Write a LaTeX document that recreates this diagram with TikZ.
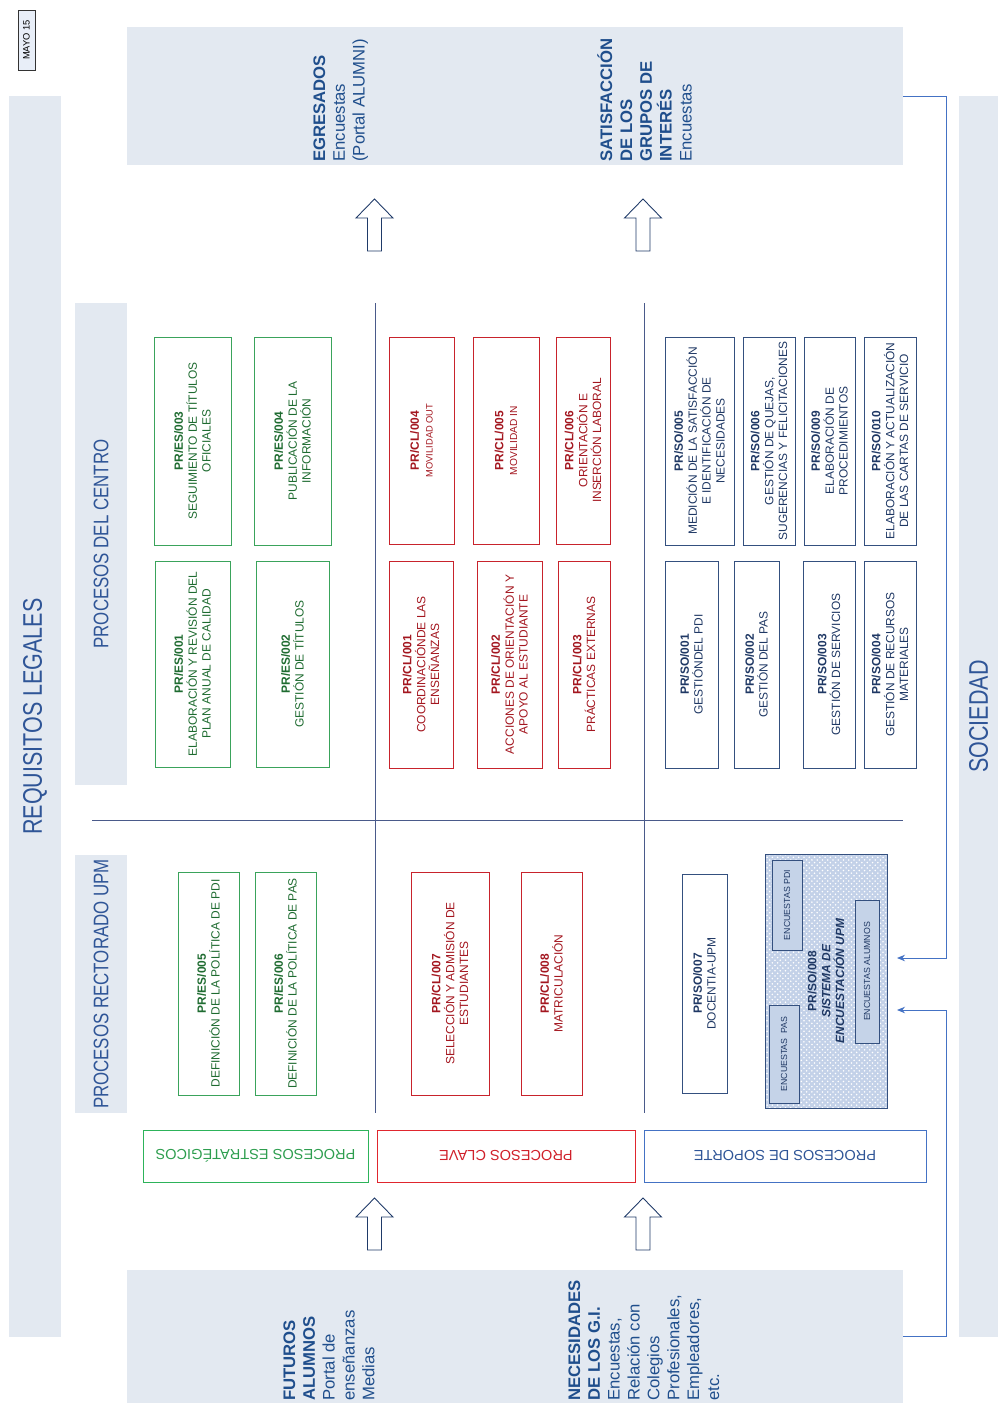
\documentclass[tikz,border=0pt]{standalone}
\usepackage{fontspec}
\setmainfont{Liberation Sans}
\newfontfamily\narrowsans[FakeStretch=0.8]{Liberation Sans}
\usepackage{tikz}
\usetikzlibrary{arrows.meta,positioning,patterns,calc}

\definecolor{bandfill}{HTML}{E3E9F1}
\definecolor{titleblue}{HTML}{2F5597}
\definecolor{labelblue}{HTML}{1F4E8C}
\definecolor{esline}{HTML}{3AA35B}
\definecolor{estext}{HTML}{1E6B30}
\definecolor{clline}{HTML}{C8232C}
\definecolor{cltext}{HTML}{A3161F}
\definecolor{soline}{HTML}{34507F}
\definecolor{sotext}{HTML}{1F3864}
\definecolor{esbarline}{HTML}{2DB35A}
\definecolor{esbartext}{HTML}{2E9E4F}
\definecolor{clbarline}{HTML}{E0262E}
\definecolor{clbartext}{HTML}{D0202A}
\definecolor{sobarline}{HTML}{4472C4}
\definecolor{connblue}{HTML}{4472C4}
\definecolor{divline}{HTML}{4A5A8A}
\definecolor{arrowline}{HTML}{1F3A68}
\definecolor{patfill}{HTML}{C3D1E8}
\definecolor{encfill}{HTML}{C5D3E8}
\definecolor{mayofill}{HTML}{E8EEF8}

\tikzset{
  band/.style={fill=bandfill, draw=none, inner sep=0pt},
  bandtitle/.style={band, rotate=90, text=titleblue, font=\narrowsans\fontsize{15.3}{18}\selectfont},
  subtitle/.style={bandtitle, font=\narrowsans\fontsize{12}{14}\selectfont},
  bandtext/.style={rotate=90, align=left, inner sep=0pt, text=labelblue, font=\fontsize{9.5}{11.3}\selectfont},
  procbox/.style={rotate=90, align=center, inner sep=1pt, line width=0.5pt, font=\fontsize{6.8}{7.9}\selectfont},
  esbox/.style={procbox, draw=esline, text=estext},
  clbox/.style={procbox, draw=clline, text=cltext},
  sobox/.style={procbox, draw=soline, text=sotext},
  encbox/.style={sobox, fill=encfill, font=\fontsize{5}{6}\selectfont},
  groupbar/.style={rotate=180, line width=0.5pt, font=\fontsize{8.3}{10}\selectfont, minimum height=10.4mm},
  hollowarrow/.style={draw=arrowline, fill=white, line width=0.5pt, line join=miter},
  divider/.style={draw=divline, line width=0.5pt},
  conn/.style={draw=connblue, line width=0.5pt, -{Stealth[length=1.6mm,width=1.3mm]}}
}

\begin{document}
\begin{tikzpicture}[x=0.2mm,y=-0.2mm]
\useasboundingbox (0,0) rectangle (999,1403);

% date tag
\node[rotate=90, draw=black!80, fill=mayofill, minimum width=12mm, minimum height=3.4mm, inner sep=0pt, font=\fontsize{5.3}{6}\selectfont] (mayo) at (26.5,40) {MAYO 15};

% side bands
\node[bandtitle, minimum width=248.2mm, minimum height=10.4mm] (reqband) at (35,716.5) {REQUISITOS LEGALES};
\node[bandtitle, minimum width=248.2mm, minimum height=7.8mm] (socband) at (978.5,716.5) {\raisebox{-0.9mm}{SOCIEDAD}};
\node[subtitle, minimum width=96.4mm, minimum height=10.4mm] (centroband) at (101,544) {PROCESOS DEL CENTRO};
\node[subtitle, minimum width=51.6mm, minimum height=10.4mm] (rectband) at (101,984) {PROCESOS RECTORADO UPM};

% top and bottom bands
\node[band, minimum width=155.2mm, minimum height=27.6mm] (topband) at (515,96) {};
\node[band, minimum width=155.2mm, minimum height=26.6mm] (bottomband) at (515,1336.5) {};
\node[bandtext, anchor=north west] (egresados) at (313,162) {\textbf{EGRESADOS}\\Encuestas\\(Portal ALUMNI)};
\node[bandtext, anchor=north west] (satisfaccion) at (597,162) {\textbf{SATISFACCIÓN}\\\textbf{DE LOS}\\\textbf{GRUPOS DE}\\\textbf{INTERÉS}\\Encuestas};
\node[bandtext, anchor=north west] (futuros) at (283,1401) {\textbf{FUTUROS}\\\textbf{ALUMNOS}\\Portal de\\enseñanzas\\Medias};
\node[bandtext, anchor=north west] (necesidades) at (568,1401) {\textbf{NECESIDADES}\\\textbf{DE LOS G.I.}\\Encuestas,\\Relación con\\Colegios\\Profesionales,\\Empleadores,\\etc.};

% hollow arrows
\foreach \ax/\ay in {374.5/199, 643/199, 374.5/1198, 643/1198}
  \draw[hollowarrow] (\ax,\ay) -- ++(18.5,19) -- ++(-11.5,0) -- ++(0,33) -- ++(-14,0) -- ++(0,-33) -- ++(-11.5,0) -- cycle;

% dividers
\draw[divider] (375,303) -- (375,1113);
\draw[divider] (644,303) -- (644,1113);
\draw[divider] (92,820) -- (903,820);

% procesos del centro
\node[esbox, minimum width=41.6mm, minimum height=15.4mm] (es003) at (192.5,441) {\textbf{PR/ES/003}\\SEGUIMIENTO DE TÍTULOS\\OFICIALES};
\node[esbox, minimum width=41.6mm, minimum height=15.4mm] (es004) at (292.5,441) {\textbf{PR/ES/004}\\PUBLICACIÓN DE LA\\INFORMACIÓN};
\node[esbox, minimum width=41.2mm, minimum height=15mm] (es001) at (192.5,664) {\textbf{PR/ES/001}\\ELABORACIÓN Y REVISIÓN DEL\\PLAN ANUAL DE CALIDAD};
\node[esbox, minimum width=41.2mm, minimum height=14.6mm] (es002) at (292.5,664) {\textbf{PR/ES/002}\\GESTIÓN DE TÍTULOS};

\node[clbox, minimum width=41.4mm, minimum height=13mm] (cl004) at (421.5,440.5) {\textbf{PR/CL/004}\\{\fontsize{5.3}{6.5}\selectfont MOVILIDAD OUT}};
\node[clbox, minimum width=41.4mm, minimum height=13.2mm] (cl005) at (506,440.5) {\textbf{PR/CL/005}\\{\fontsize{5.8}{7}\selectfont MOVILIDAD IN}};
\node[clbox, minimum width=41.4mm, minimum height=10.8mm] (cl006) at (583,440.5) {\textbf{PR/CL/006}\\ORIENTACIÓN E\\INSERCIÓN LABORAL};
\node[clbox, minimum width=41.4mm, minimum height=12.8mm] (cl001) at (421,664.5) {\textbf{PR/CL/001}\\COORDINACIÓNDE LAS\\ENSEÑANZAS};
\node[clbox, minimum width=41.4mm, minimum height=13mm] (cl002) at (509.5,664.5) {\textbf{PR/CL/002}\\ACCIONES DE ORIENTACIÓN Y\\APOYO AL ESTUDIANTE};
\node[clbox, minimum width=41.4mm, minimum height=10.4mm] (cl003) at (584,664.5) {\textbf{PR/CL/003}\\PRÁCTICAS EXTERNAS};

\node[sobox, minimum width=41.6mm, minimum height=13.8mm] (so005) at (699.5,441) {\textbf{PR/SO/005}\\MEDICIÓN DE LA SATISFACCIÓN\\E IDENTIFICACIÓN DE\\NECESIDADES};
\node[sobox, minimum width=41.6mm, minimum height=10.4mm] (so006) at (769,441) {\textbf{PR/SO/006}\\GESTIÓN DE QUEJAS,\\SUGERENCIAS Y FELICITACIONES};
\node[sobox, minimum width=41.6mm, minimum height=10.2mm] (so009) at (829.5,441) {\textbf{PR/SO/009}\\ELABORACIÓN DE\\PROCEDIMIENTOS};
\node[sobox, minimum width=41.6mm, minimum height=10.4mm] (so010) at (890,441) {\textbf{PR/SO/010}\\ELABORACIÓN Y ACTUALIZACIÓN\\DE LAS CARTAS DE SERVICIO};
\node[sobox, minimum width=41.4mm, minimum height=10.6mm] (so001) at (691.5,664.5) {\textbf{PR/SO/001}\\GESTIÓNDEL PDI};
\node[sobox, minimum width=41.4mm, minimum height=9mm] (so002) at (756.5,664.5) {\textbf{PR/SO/002}\\GESTIÓN DEL PAS};
\node[sobox, minimum width=41.4mm, minimum height=10.4mm] (so003) at (829,664.5) {\textbf{PR/SO/003}\\GESTIÓN DE SERVICIOS};
\node[sobox, minimum width=41.4mm, minimum height=10.4mm] (so004) at (890,664.5) {\textbf{PR/SO/004}\\GESTIÓN DE RECURSOS\\MATERIALES};

% procesos rectorado
\node[esbox, minimum width=44.6mm, minimum height=12.2mm] (es005) at (208.5,983.5) {\textbf{PR/ES/005}\\DEFINICIÓN DE LA POLÍTICA DE PDI};
\node[esbox, minimum width=44.6mm, minimum height=12.2mm] (es006) at (285.5,983.5) {\textbf{PR/ES/006}\\DEFINICIÓN DE LA POLÍTICA DE PAS};
\node[clbox, minimum width=44.6mm, minimum height=15.6mm] (cl007) at (450,983.5) {\textbf{PR/CL/007}\\SELECCIÓN Y ADMISIÓN DE\\ESTUDIANTES};
\node[clbox, minimum width=44.6mm, minimum height=12.2mm] (cl008) at (551.5,983.5) {\textbf{PR/CL/008}\\MATRICULACIÓN};
\node[sobox, minimum width=43.8mm, minimum height=9mm] (so007) at (704.5,983.5) {\textbf{PR/SO/007}\\DOCENTIA-UPM};
\node[sobox, minimum width=50.8mm, minimum height=24.4mm, preaction={fill=patfill}, pattern=crosshatch dots, pattern color=white] (so008) at (826,981) {\textbf{PR/SO/008}\\\textbf{\textit{SISTEMA DE}}\\\textbf{\textit{ENCUESTACIÓN UPM}}};
\node[encbox, minimum width=18mm, minimum height=6mm] (encpdi) at (787,905) {ENCUESTAS PDI};
\node[encbox, minimum width=28.6mm, minimum height=4.8mm] (encalum) at (867,971.5) {ENCUESTAS ALUMNOS};
\node[encbox, minimum width=19.6mm, minimum height=6mm] (encpas) at (784,1054) {ENCUESTAS\ \ PAS};

% group bars
\node[groupbar, draw=esbarline, text=esbartext, minimum width=45mm] (esbar) at (255.5,1156) {PROCESOS ESTRATÉGICOS};
\node[groupbar, draw=clbarline, text=clbartext, minimum width=51.6mm] (clbar) at (506,1156) {PROCESOS CLAVE};
\node[groupbar, draw=sobarline, text=titleblue, minimum width=56.4mm] (sobar) at (785,1156) {PROCESOS DE SOPORTE};

% feedback to the survey system
\coordinate (soin1) at (897,958);
\coordinate (soin2) at (897,1010);
\draw[conn] (topband.east) -- ++(43,0) |- (soin1);
\draw[conn] (bottomband.east) -- ++(43,0) |- (soin2);

\end{tikzpicture}
\end{document}
